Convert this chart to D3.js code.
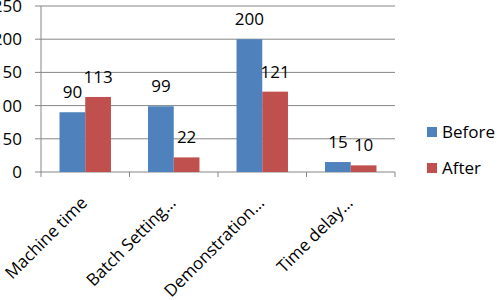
<!DOCTYPE html>
<html>
<head>
<meta charset="utf-8">
<script src="https://cdn.jsdelivr.net/npm/d3@7"></script>
<style>
body { margin: 0; background: #fff; }
text { font-family: "Open Sans", sans-serif; fill: #000; }
</style>
</head>
<body>
<svg id="chart" width="504" height="300"></svg>
<script>
const categories = ['Machine time', 'Batch Setting…', 'Demonstration…', 'Time delay…'];
const before = [90, 99, 200, 15];
const after = [113, 22, 121, 10];
const seriesNames = ['Before', 'After'];
const yTicks = [0, 50, 100, 150, 200, 250];

const svg = d3.select('#chart');
const margin = { top: 6, left: 41, right: 109, bottom: 128 };
const innerWidth = 504 - margin.left - margin.right;
const innerHeight = 300 - margin.top - margin.bottom;
const colors = ['#4F81BD', '#C0504D'];
const gridColor = '#868686';

const g = svg.append('g')
    .attr('transform', `translate(${margin.left},${margin.top})`);

const x = d3.scaleBand().domain(categories).range([0, innerWidth]);
const x1 = d3.scaleBand().domain(seriesNames).range([0, x.bandwidth()]).paddingOuter(0.72);
const y = d3.scaleLinear().domain([0, 250]).range([innerHeight, 0]);

// gridlines
g.selectAll('.grid')
    .data(yTicks)
    .enter().append('line')
    .attr('x1', -6).attr('x2', innerWidth)
    .attr('y1', d => y(d)).attr('y2', d => y(d))
    .attr('stroke', gridColor).attr('stroke-width', 1);

// y labels
g.selectAll('.ylab')
    .data(yTicks)
    .enter().append('text')
    .attr('x', -19).attr('y', d => y(d) + 6)
    .attr('text-anchor', 'end')
    .style('font-size', '17px')
    .text(d => d);

// axis lines
g.append('line').attr('x1', 0).attr('x2', 0).attr('y1', 0).attr('y2', innerHeight)
    .attr('stroke', gridColor);
g.selectAll('.xtick')
    .data(d3.range(categories.length + 1))
    .enter().append('line')
    .attr('x1', i => i * x.step()).attr('x2', i => i * x.step())
    .attr('y1', innerHeight).attr('y2', innerHeight + 5)
    .attr('stroke', gridColor);

// bars
const rows = categories.map((c, i) => ({ cat: c, vals: [before[i], after[i]] }));
const groups = g.selectAll('.grp')
    .data(rows)
    .enter().append('g')
    .attr('transform', d => `translate(${x(d.cat)},0)`);

groups.selectAll('rect')
    .data(d => d.vals.map((v, j) => ({ key: seriesNames[j], v: v, j: j })))
    .enter().append('rect')
    .attr('x', d => x1(d.key))
    .attr('width', x1.bandwidth())
    .attr('y', d => y(d.v))
    .attr('height', d => innerHeight - y(d.v))
    .attr('fill', d => colors[d.j]);

groups.selectAll('.val')
    .data(d => d.vals.map((v, j) => ({ key: seriesNames[j], v: v, j: j })))
    .enter().append('text')
    .attr('x', d => x1(d.key) + x1.bandwidth() / 2)
    .attr('y', d => y(d.v) - 14)
    .attr('text-anchor', 'middle')
    .style('font-size', '17px')
    .text(d => d.v);

// x labels
g.selectAll('.xlab')
    .data(categories)
    .enter().append('text')
    .attr('transform', d => `translate(${x(d) + x.bandwidth() / 2 + 3},${innerHeight + 32}) rotate(-45)`)
    .attr('text-anchor', 'end')
    .style('font-size', '17px')
    .text(d => d);

// legend
const legend = svg.append('g').attr('transform', 'translate(427,127)');
seriesNames.forEach((s, i) => {
    legend.append('rect').attr('x', 0).attr('y', i * 36).attr('width', 10).attr('height', 10)
        .attr('fill', colors[i]);
    legend.append('text').attr('x', 15).attr('y', i * 36 + 11)
        .style('font-size', '17px')
        .text(s);
});
</script>
</body>
</html>
